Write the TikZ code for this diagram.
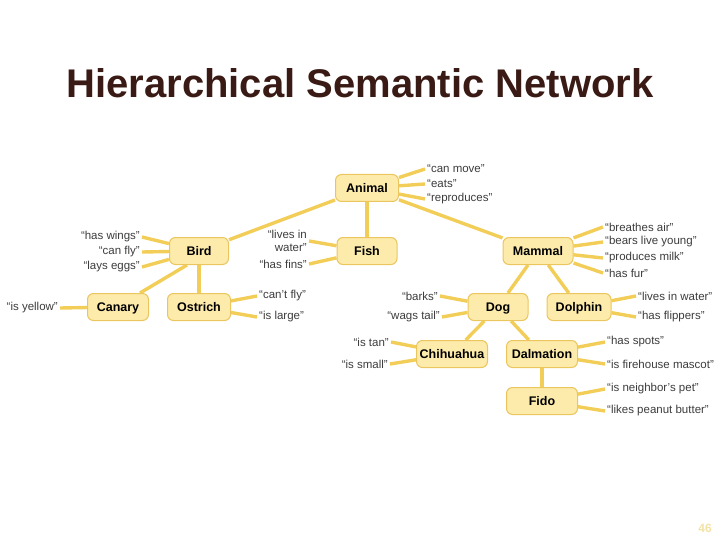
\documentclass[tikz,border=0pt]{standalone}
\usepackage{fontspec}
\setmainfont{Liberation Sans}
\usetikzlibrary{backgrounds}
\definecolor{boxfill}{HTML}{FDEBAB}
\definecolor{boxline}{HTML}{EBC55E}
\definecolor{linkcol}{HTML}{F2CE58}
\definecolor{lblcol}{HTML}{3C3C3C}
\definecolor{titlecol}{HTML}{3A1A14}
\definecolor{pagecol}{HTML}{F3E2A4}
\tikzset{
  concept/.style={draw=boxline, fill=boxfill, rounded corners=6pt, line width=1pt,
    minimum height=27pt, minimum width=60pt, inner xsep=3pt,
    text height=9pt, text depth=0pt,
    font=\fontsize{12.5}{14}\selectfont\bfseries, text=black},
  prop/.style={font=\fontsize{11.5}{12.5}\selectfont, text=lblcol, inner sep=2pt},
  link/.style={draw=linkcol, line width=3.4pt},
}
\begin{document}
\begin{tikzpicture}[x=1pt,y=-1pt]
\useasboundingbox (0,0) rectangle (720,540);
\node[font=\fontsize{40}{44}\selectfont\bfseries, text=titlecol] (title) at (360,83) {Hierarchical Semantic Network};
% concept nodes
\node[concept, minimum width=63pt] (animal) at (367,188) {Animal};
\node[concept, minimum width=59pt] (bird) at (199,251) {Bird};
\node[concept] (fish) at (367,251) {Fish};
\node[concept, minimum width=70pt] (mammal) at (538,251) {Mammal};
\node[concept, minimum width=61pt] (canary) at (118,307) {Canary};
\node[concept, minimum width=63pt] (ostrich) at (199,307) {Ostrich};
\node[concept] (dog) at (498,307) {Dog};
\node[concept, minimum width=64pt] (dolphin) at (579,307) {Dolphin};
\node[concept, minimum width=71pt] (chihuahua) at (452,354) {Chihuahua};
\node[concept, minimum width=71pt] (dalmation) at (542,354) {Dalmation};
\node[concept, minimum width=71pt] (fido) at (542,401) {Fido};
% property labels
\node[prop, anchor=west] (a1) at (425,169) {“can move”};
\node[prop, anchor=west] (a2) at (425,184) {“eats”};
\node[prop, anchor=west] (a3) at (425,199) {“reproduces”};
\node[prop, anchor=east] (b1) at (142,237) {“has wings”};
\node[prop, anchor=east] (b2) at (142,252) {“can fly”};
\node[prop, anchor=east] (b3) at (142,267) {“lays eggs”};
\node[prop, anchor=east, align=right] (f1) at (309,241) {“lives in\\water”};
\node[prop, anchor=east] (f2) at (309,264) {“has fins”};
\node[prop, anchor=west] (m1) at (603,227) {“breathes air”};
\node[prop, anchor=west] (m2) at (603,242) {“bears live young”};
\node[prop, anchor=west] (m3) at (603,258) {“produces milk”};
\node[prop, anchor=west] (m4) at (603,273) {“has fur”};
\node[prop, anchor=east] (c1) at (60,308) {“is yellow”};
\node[prop, anchor=west] (o1) at (257,296) {“can’t fly”};
\node[prop, anchor=west] (o2) at (257,317) {“is large”};
\node[prop, anchor=east] (d1) at (440,296) {“barks”};
\node[prop, anchor=east] (d2) at (442,317) {“wags tail”};
\node[prop, anchor=west] (p1) at (636,296) {“lives in water”};
\node[prop, anchor=west] (p2) at (636,317) {“has flippers”};
\node[prop, anchor=east] (h1) at (391,342) {“is tan”};
\node[prop, anchor=east] (h2) at (390,364) {“is small”};
\node[prop, anchor=west] (l1) at (605,342) {“has spots”};
\node[prop, anchor=west] (l2) at (605,364) {“is firehouse mascot”};
\node[prop, anchor=west] (i1) at (605,389) {“is neighbor’s pet”};
\node[prop, anchor=west] (i2) at (605,411) {“likes peanut butter”};
\node[font=\fontsize{12}{14}\selectfont\bfseries, text=pagecol] (page) at (705,528) {46};
\begin{scope}[on background layer]
  % hierarchy
  \draw[link] (animal) -- (bird);
  \draw[link] (animal) -- (fish);
  \draw[link] (animal) -- (mammal);
  \draw[link] ([xshift=-12pt]bird.south) -- ([xshift=22pt]canary.north);
  \draw[link] (bird) -- (ostrich);
  \draw[link] (mammal) -- (dog);
  \draw[link] (mammal) -- (dolphin);
  \draw[link] (dog) -- (chihuahua);
  \draw[link] (dog) -- (dalmation);
  \draw[link] (dalmation) -- (fido);
  % properties
  \draw[link] (animal) -- (a1.west);
  \draw[link] (animal) -- (a2.west);
  \draw[link] (animal) -- (a3.west);
  \draw[link] (bird) -- (b1.east);
  \draw[link] (bird) -- (b2.east);
  \draw[link] (bird) -- (b3.east);
  \draw[link] (fish) -- (f1.east);
  \draw[link] (fish) -- (f2.east);
  \draw[link] (mammal) -- (m1.west);
  \draw[link] (mammal) -- (m2.west);
  \draw[link] (mammal) -- (m3.west);
  \draw[link] (mammal) -- (m4.west);
  \draw[link] (canary) -- (c1.east);
  \draw[link] (ostrich) -- (o1.west);
  \draw[link] (ostrich) -- (o2.west);
  \draw[link] (dog) -- (d1.east);
  \draw[link] (dog) -- (d2.east);
  \draw[link] (dolphin) -- (p1.west);
  \draw[link] (dolphin) -- (p2.west);
  \draw[link] (chihuahua) -- (h1.east);
  \draw[link] (chihuahua) -- (h2.east);
  \draw[link] (dalmation) -- (l1.west);
  \draw[link] (dalmation) -- (l2.west);
  \draw[link] (fido) -- (i1.west);
  \draw[link] (fido) -- (i2.west);
\end{scope}
\end{tikzpicture}
\end{document}
